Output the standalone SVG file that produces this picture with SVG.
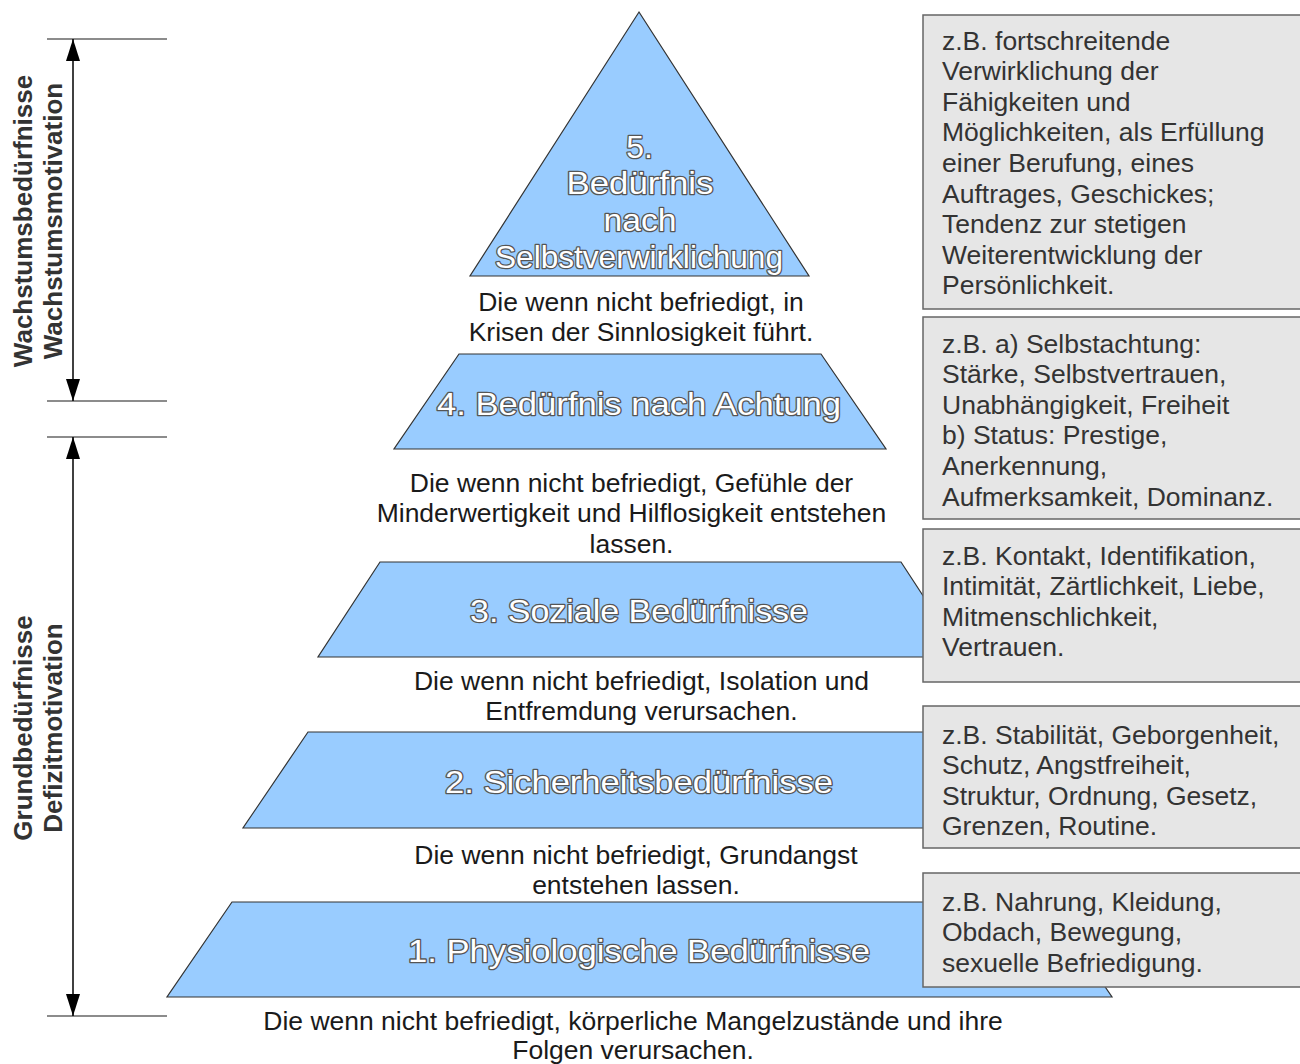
<svg xmlns="http://www.w3.org/2000/svg" width="1300" height="1064" viewBox="0 0 1300 1064">
<style>
.layer{fill:#99ccff;stroke:#333333;stroke-width:1.2;stroke-linejoin:miter}
.title{font-family:"Liberation Sans",Arial,sans-serif;font-size:32px;fill:#ffffff;stroke:#555555;stroke-width:2.6;paint-order:stroke;stroke-linejoin:round;text-anchor:middle}
.desc{font-family:"Liberation Sans",Arial,sans-serif;font-size:26.5px;fill:#1a1a1a;text-anchor:middle}
.box{fill:#e6e6e6;stroke:#666666;stroke-width:1.5}
.boxtext{font-family:"Liberation Sans",Arial,sans-serif;font-size:26.5px;fill:#333333}
.side{font-family:"Liberation Sans",Arial,sans-serif;font-size:26px;font-weight:bold;fill:#333333;text-anchor:middle}
.tick{stroke:#666666;stroke-width:1.5}
.arrow{stroke:#000000;stroke-width:1.5;fill:none;marker-start:url(#head);marker-end:url(#head)}
</style>
<defs>
<marker id="head" viewBox="0 -7 22 14" refX="22" refY="0" markerWidth="22" markerHeight="14" markerUnits="userSpaceOnUse" orient="auto-start-reverse">
<path d="M0,-7 L22,0 L0,7 Z" fill="#000000"/>
</marker>
</defs>
<rect width="1300" height="1064" fill="#ffffff"/>

<g id="layer5">
<polygon class="layer" points="639,12 809,276 470,276"/>
<text class="title" x="639.5" y="157.5">5.</text>
<text class="title" x="640" y="194.2" textLength="147" lengthAdjust="spacingAndGlyphs">Bedürfnis</text>
<text class="title" x="640" y="230.9" textLength="73" lengthAdjust="spacingAndGlyphs">nach</text>
<text class="title" x="639" y="267.6" textLength="288" lengthAdjust="spacingAndGlyphs">Selbstverwirklichung</text>
</g>
<g id="desc5">
<text class="desc" x="641" y="310.5">Die wenn nicht befriedigt, in</text>
<text class="desc" x="641" y="341.1">Krisen der Sinnlosigkeit führt.</text>
</g>

<g id="layer4">
<polygon class="layer" points="459,354 821,354 886,449 394,449"/>
<text class="title" x="639" y="414.5" textLength="404" lengthAdjust="spacingAndGlyphs">4. Bedürfnis nach Achtung</text>
</g>
<g id="desc4">
<text class="desc" x="631.5" y="491.5">Die wenn nicht befriedigt, Gefühle der</text>
<text class="desc" x="631.5" y="522.1">Minderwertigkeit und Hilflosigkeit entstehen</text>
<text class="desc" x="631.5" y="552.7">lassen.</text>
</g>

<g id="layer3">
<polygon class="layer" points="380,562 901,562 963,657 318,657"/>
<text class="title" x="639" y="621.5" textLength="338" lengthAdjust="spacingAndGlyphs">3. Soziale Bedürfnisse</text>
</g>
<g id="desc3">
<text class="desc" x="641.5" y="689.5">Die wenn nicht befriedigt, Isolation und</text>
<text class="desc" x="641.5" y="720.1">Entfremdung verursachen.</text>
</g>

<g id="layer2">
<polygon class="layer" points="308,732 972,732 1037,828 243,828"/>
<text class="title" x="639" y="792.5" textLength="388" lengthAdjust="spacingAndGlyphs">2. Sicherheitsbedürfnisse</text>
</g>
<g id="desc2">
<text class="desc" x="636" y="863.5">Die wenn nicht befriedigt, Grundangst</text>
<text class="desc" x="636" y="894.1">entstehen lassen.</text>
</g>

<g id="layer1">
<polygon class="layer" points="232,902 1047,902 1112,997 167,997"/>
<text class="title" x="639" y="961.5" textLength="462" lengthAdjust="spacingAndGlyphs">1. Physiologische Bedürfnisse</text>
</g>
<g id="desc1">
<text class="desc" x="633" y="1030">Die wenn nicht befriedigt, körperliche Mangelzustände und ihre</text>
<text class="desc" x="633" y="1059">Folgen verursachen.</text>
</g>

<g id="box5">
<rect class="box" x="923" y="15" width="378" height="294"/>
<text class="boxtext" x="942" y="49.5">z.B. fortschreitende</text>
<text class="boxtext" x="942" y="80.1">Verwirklichung der</text>
<text class="boxtext" x="942" y="110.7">Fähigkeiten und</text>
<text class="boxtext" x="942" y="141.3">Möglichkeiten, als Erfüllung</text>
<text class="boxtext" x="942" y="171.9">einer Berufung, eines</text>
<text class="boxtext" x="942" y="202.5">Auftrages, Geschickes;</text>
<text class="boxtext" x="942" y="233.1">Tendenz zur stetigen</text>
<text class="boxtext" x="942" y="263.7">Weiterentwicklung der</text>
<text class="boxtext" x="942" y="294.3">Persönlichkeit.</text>
</g>
<g id="box4">
<rect class="box" x="923" y="317" width="378" height="202"/>
<text class="boxtext" x="942" y="352.5">z.B. a) Selbstachtung:</text>
<text class="boxtext" x="942" y="383.1">Stärke, Selbstvertrauen,</text>
<text class="boxtext" x="942" y="413.7">Unabhängigkeit, Freiheit</text>
<text class="boxtext" x="942" y="444.3">b) Status: Prestige,</text>
<text class="boxtext" x="942" y="474.9">Anerkennung,</text>
<text class="boxtext" x="942" y="505.5">Aufmerksamkeit, Dominanz.</text>
</g>
<g id="box3">
<rect class="box" x="923" y="529" width="378" height="153"/>
<text class="boxtext" x="942" y="564.5">z.B. Kontakt, Identifikation,</text>
<text class="boxtext" x="942" y="595.1">Intimität, Zärtlichkeit, Liebe,</text>
<text class="boxtext" x="942" y="625.7">Mitmenschlichkeit,</text>
<text class="boxtext" x="942" y="656.3">Vertrauen.</text>
</g>
<g id="box2">
<rect class="box" x="923" y="706" width="378" height="142"/>
<text class="boxtext" x="942" y="743.5">z.B. Stabilität, Geborgenheit,</text>
<text class="boxtext" x="942" y="774.1">Schutz, Angstfreiheit,</text>
<text class="boxtext" x="942" y="804.7">Struktur, Ordnung, Gesetz,</text>
<text class="boxtext" x="942" y="835.3">Grenzen, Routine.</text>
</g>
<g id="box1">
<rect class="box" x="923" y="873" width="378" height="114"/>
<text class="boxtext" x="942" y="910.5">z.B. Nahrung, Kleidung,</text>
<text class="boxtext" x="942" y="941.1">Obdach, Bewegung,</text>
<text class="boxtext" x="942" y="971.7">sexuelle Befriedigung.</text>
</g>

<g id="growth-label">
<text class="side" transform="translate(32,221) rotate(-90)">Wachstumsbedürfnisse</text>
<text class="side" transform="translate(62,221) rotate(-90)">Wachstumsmotivation</text>
</g>
<g id="deficit-label">
<text class="side" transform="translate(32,728) rotate(-90)">Grundbedürfnisse</text>
<text class="side" transform="translate(62,728) rotate(-90)">Defizitmotivation</text>
</g>

<g id="connectors">
<line class="tick" x1="47" y1="39" x2="167" y2="39"/>
<line class="tick" x1="47" y1="401" x2="167" y2="401"/>
<line class="tick" x1="47" y1="437" x2="167" y2="437"/>
<line class="tick" x1="47" y1="1016" x2="167" y2="1016"/>
<line class="arrow" x1="73" y1="39" x2="73" y2="401"/>
<line class="arrow" x1="73" y1="437" x2="73" y2="1016"/>
</g>
</svg>
